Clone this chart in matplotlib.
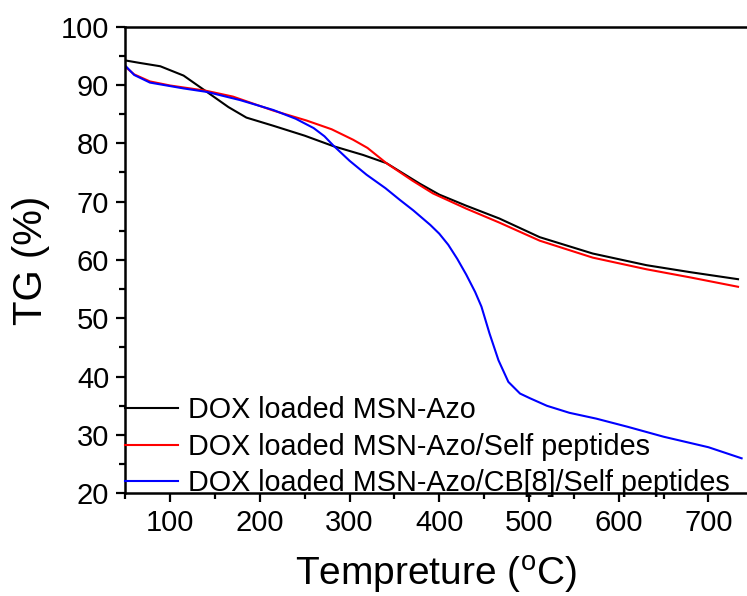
import matplotlib
matplotlib.use('Agg')
import matplotlib.pyplot as plt
from matplotlib.ticker import MultipleLocator

plt.rcParams['font.family'] = ['Liberation Sans', 'DejaVu Sans']
plt.rcParams['mathtext.fontset'] = 'custom'
plt.rcParams['mathtext.rm'] = 'Liberation Sans'

# --- data ---
x_azo = [50, 65, 89, 115, 141, 165, 185, 215, 250, 282, 315, 341, 378, 400,
         430, 467, 512, 571, 631, 680, 733]
tg_azo = [94.2, 93.8, 93.2, 91.6, 88.8, 86.2, 84.4, 83.0, 81.3, 79.5, 78.0,
          76.6, 73.1, 71.2, 69.3, 67.1, 63.9, 61.1, 59.1, 57.9, 56.7]

x_self = [50, 60, 77.5, 100, 140, 170, 215, 252, 280, 304, 320, 341, 370,
          393, 430, 467, 512, 571, 631, 680, 733]
tg_self = [93.1, 91.8, 90.6, 89.9, 89.0, 88.0, 85.6, 83.9, 82.4, 80.6, 79.2,
           76.6, 73.6, 71.4, 68.8, 66.4, 63.3, 60.4, 58.4, 57.0, 55.4]

x_cb8 = [50, 60, 77.5, 115, 141, 178, 215, 240, 260, 272, 282, 300, 319, 340,
         356, 371, 390, 400, 410, 420, 430, 440, 447, 456, 466, 477, 490, 501,
         520, 545, 575, 610, 650, 700, 737]
tg_cb8 = [93.3, 91.7, 90.4, 89.4, 88.8, 87.4, 85.7, 84.2, 82.6, 81.2, 79.6,
          77.0, 74.6, 72.3, 70.3, 68.5, 66.0, 64.5, 62.6, 60.2, 57.5, 54.5,
          52.0, 47.4, 42.8, 39.1, 37.1, 36.3, 35.0, 33.8, 32.8, 31.4, 29.7,
          27.9, 26.0]

labels = ['DOX loaded MSN-Azo',
          'DOX loaded MSN-Azo/Self peptides',
          'DOX loaded MSN-Azo/CB[8]/Self peptides']

fig = plt.figure(figsize=(7.47, 5.96), dpi=100)
ax = fig.add_axes([0.1677, 0.1723, 0.8323, 0.7831])

ax.plot(x_azo, tg_azo, color='black', lw=1.5, label=labels[0])
ax.plot(x_self, tg_self, color='red', lw=1.5, label=labels[1])
ax.plot(x_cb8, tg_cb8, color='blue', lw=1.5, label=labels[2])

ax.set_xlim(50, 743)
ax.set_ylim(20, 100)
ax.xaxis.set_minor_locator(MultipleLocator(50))
ax.yaxis.set_major_locator(MultipleLocator(10))
ax.yaxis.set_minor_locator(MultipleLocator(5))
ax.set_xticks(range(100, 800, 100))

ax.spines['right'].set_visible(False)
for s in ['left', 'bottom', 'top']:
    ax.spines[s].set_linewidth(1.8)
ax.tick_params(which='major', direction='out', length=6.5, width=1.6,
               labelsize=21, pad=5)
ax.tick_params(which='minor', direction='out', length=4, width=1.6)

ax.set_xlabel(r'Tempreture ($^{\rm o}$C)', fontsize=28, labelpad=12)
ax.set_ylabel('TG (%)', fontsize=29, labelpad=8)

ax.legend(loc='upper left', bbox_to_anchor=(0, 0.208), frameon=False,
          fontsize=20.7, handlelength=1.85, handletextpad=0.33,
          labelspacing=0.3, borderaxespad=0, borderpad=0)

fig.savefig('out.png', dpi=100)
